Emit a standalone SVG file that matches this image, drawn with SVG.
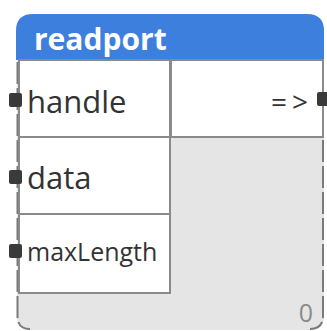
<svg xmlns="http://www.w3.org/2000/svg" width="327" height="331" viewBox="0 0 327 331">
  <style>
    .body { fill: #e5e5e5; }
    .cell { fill: #ffffff; stroke: #8a8a8a; stroke-width: 2; }
    .edge { fill: none; stroke: #7a7a7a; stroke-width: 2; stroke-dasharray: 22 4; }
    .port { fill: #3a3a3a; }
    .title { font-family: "Open Sans", "Noto Sans", sans-serif; font-weight: bold; font-size: 30px; fill: #ffffff; }
    .label { font-family: "Open Sans", "Noto Sans", sans-serif; font-size: 31px; fill: #333333; }
    .small { font-family: "Open Sans", "Noto Sans", sans-serif; font-size: 25px; fill: #333333; }
    .arrow { font-family: "Open Sans", "Noto Sans", sans-serif; font-size: 28px; fill: #333333; }
    .count { font-family: "Open Sans", "Noto Sans", sans-serif; font-size: 25px; fill: #8a8a8a; }
  </style>

  <g id="readport">
    <!-- body below the header -->
    <path class="body" d="M17 60 H324 V316 Q324 330 310 330 H31 Q17 330 17 316 Z"/>
    <!-- header -->
    <path fill="#3c7fdd" d="M16 60 V31 Q16 14 33 14 H307 Q324 14 324 31 V60 Z"/>
    <text class="title" x="34" y="50">readport</text>

    <!-- side borders -->
    <path class="edge" d="M17.5 62 V316 Q17.5 329 30 329"/>
    <path class="edge" d="M323 62 V316 Q323 329 310 329"/>

    <!-- input cells -->
    <rect class="cell" x="19" y="60" width="151" height="77"/>
    <rect class="cell" x="19" y="137" width="151" height="77"/>
    <rect class="cell" x="19" y="214" width="151" height="79"/>
    <!-- output cell -->
    <rect class="cell" x="171" y="60" width="152" height="77"/>

    <text class="label" x="27" y="113">handle</text>
    <text class="label" x="27" y="189">data</text>
    <text class="small" x="27" y="261">maxLength</text>
    <text class="arrow" x="313" y="112" text-anchor="end" letter-spacing="5">=&gt;</text>
    <text class="count" x="313" y="322" text-anchor="end">0</text>

    <!-- ports -->
    <rect class="port" x="9" y="93" width="13" height="14" rx="2"/>
    <rect class="port" x="9" y="170" width="13" height="14" rx="2"/>
    <rect class="port" x="9" y="244" width="13" height="14" rx="2"/>
    <rect class="port" x="317" y="92" width="13" height="14" rx="2"/>
  </g>

  <g id="connectors"></g>
</svg>
